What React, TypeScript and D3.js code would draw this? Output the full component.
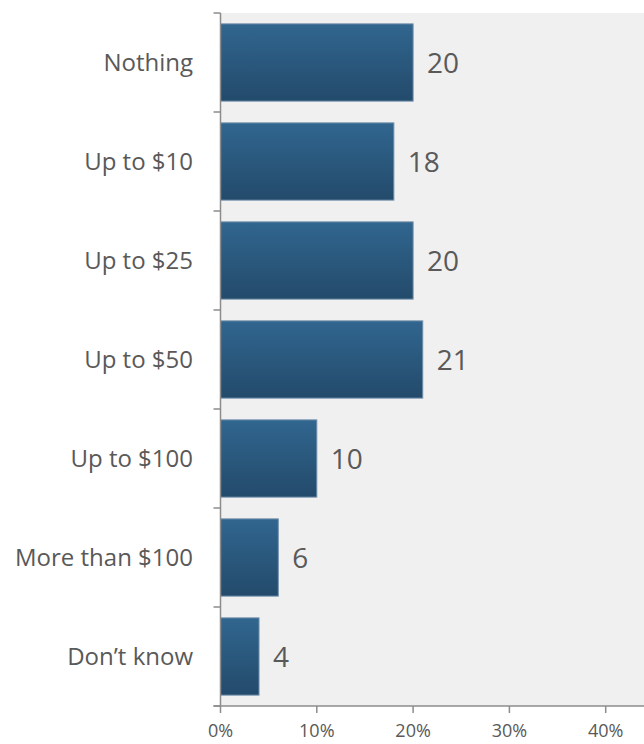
import React from "react";
import * as d3 from "d3";

const categories = ["Nothing", "Up to $10", "Up to $25", "Up to $50", "Up to $100", "More than $100", "Don\u2019t know"];
const values = [20, 18, 20, 21, 10, 6, 4];
const xTicks = [0, 10, 20, 30, 40];

const W = 644;
const H = 744;
const left = 220.5;
const top = 13;
const bottom = 706;

export default function App() {
  const x = d3.scaleLinear().domain([0, 40]).range([left, 605.7]);
  const y = d3.scaleBand<string>().domain(categories).range([top, bottom]).paddingInner(0.22).paddingOuter(0.11);
  const step = y.step();
  const font = "'Open Sans', sans-serif";
  const axisColor = "#8c8c8c";
  return (
    <svg width={W} height={H} style={{ position: "absolute", left: 0, top: 0 }}>
      <defs>
        <linearGradient id="barGrad" x1="0" y1="0" x2="0" y2="1">
          <stop offset="0%" stopColor="#31668f" />
          <stop offset="100%" stopColor="#234a6b" />
        </linearGradient>
      </defs>
      <rect x={left} y={top} width={W - left} height={bottom - top} fill="#f0f0f0" />
      {categories.map((c, i) => (
        <g key={c}>
          <rect
            x={x(0)}
            y={y(c)!}
            width={x(values[i]) - x(0)}
            height={y.bandwidth()}
            fill="url(#barGrad)"
            stroke="#6f8eaa"
            strokeWidth={1}
          />
          <text
            x={x(values[i]) + 14}
            y={y(c)! + y.bandwidth() / 2}
            dy="0.36em"
            fontSize={28}
            fill="#595959"
            fontFamily={font}
          >
            {values[i]}
          </text>
          <text
            x={193}
            y={y(c)! + y.bandwidth() / 2}
            dy="0.36em"
            textAnchor="end"
            fontSize={24}
            fill="#595959"
            fontFamily={font}
          >
            {c}
          </text>
        </g>
      ))}
      <line x1={left} x2={left} y1={top} y2={bottom} stroke={axisColor} strokeWidth={1.5} />
      {d3.range(categories.length + 1).map((i) => (
        <line key={i} x1={left - 7} x2={left} y1={top + i * step} y2={top + i * step} stroke={axisColor} strokeWidth={1.5} />
      ))}
      <line x1={left - 7} x2={W} y1={bottom} y2={bottom} stroke={axisColor} strokeWidth={1.5} />
      {xTicks.map((t) => (
        <g key={t}>
          <line x1={x(t)} x2={x(t)} y1={bottom} y2={bottom + 7} stroke={axisColor} strokeWidth={1.5} />
          <text x={x(t)} y={bottom + 31} textAnchor="middle" fontSize={18} fill="#595959" fontFamily={font}>
            {t}%
          </text>
        </g>
      ))}
    </svg>
  );
}
